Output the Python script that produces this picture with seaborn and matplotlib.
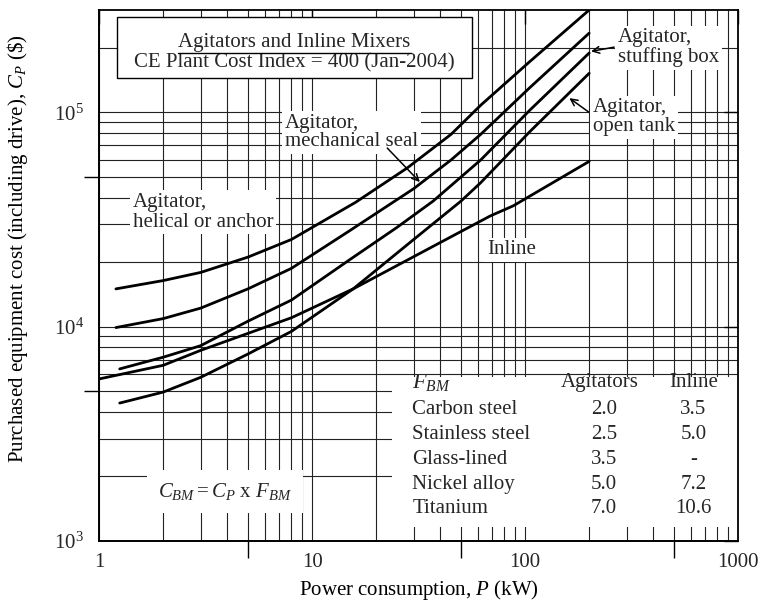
import numpy as np
import pandas as pd
import matplotlib
matplotlib.use("Agg")
import matplotlib.pyplot as plt
import seaborn as sns
from matplotlib.patches import Rectangle
from matplotlib.ticker import NullLocator, NullFormatter

# curves: power P (kW) vs purchased cost Cp ($)
p_helical = [1.2, 2, 3, 5, 8, 16, 28, 45, 62, 105, 200]
cp_helical = [15000, 16400, 17900, 21100, 25500, 38000, 55000, 79000, 108000, 172000, 300000]
p_seal = [1.2, 2, 3, 5, 8, 15, 30, 45, 62, 105, 200]
cp_seal = [9900, 10900, 12200, 15000, 18700, 28000, 44000, 60000, 79000, 130000, 234000]
p_stuffing = [1.25, 2, 3, 5, 8, 15, 25, 37, 62, 105, 200]
cp_stuffing = [6350, 7200, 8150, 10600, 13300, 20500, 29000, 38500, 60000, 102000, 189000]
p_open = [1.25, 2, 3, 5, 8, 15.6, 30, 50, 62, 105, 200]
cp_open = [4400, 4950, 5800, 7450, 9500, 15000, 25500, 38500, 47000, 81000, 152000]
p_inline = [1, 2, 3, 5, 8, 15.6, 35, 68.5, 88, 200]
cp_inline = [5700, 6600, 7750, 9300, 11000, 15000, 23000, 32800, 36600, 59000]

materials = ["Carbon steel", "Stainless steel", "Glass-lined", "Nickel alloy", "Titanium"]
fbm_agitators = ["2.0", "2.5", "3.5", "5.0", "7.0"]
fbm_inline = ["3.5", "5.0", "-", "7.2", "10.6"]

x_ticks = [1, 10, 100, 1000]
x_tick_labels = ["1", "10", "100", "1000"]
y_ticks = [1e3, 1e4, 1e5]
y_tick_labels = [r"$10^3$", r"$10^4$", r"$10^5$"]

curves = {
    "helical": (p_helical, cp_helical),
    "seal": (p_seal, cp_seal),
    "stuffing": (p_stuffing, cp_stuffing),
    "open": (p_open, cp_open),
    "inline": (p_inline, cp_inline),
}
df = pd.concat([pd.DataFrame({"P": p, "Cp": c, "curve": k}) for k, (p, c) in curves.items()])

sns.set_theme(style="white")
plt.rcParams["font.family"] = ["Liberation Serif", "DejaVu Serif"]
plt.rcParams["mathtext.fontset"] = "custom"
plt.rcParams["mathtext.rm"] = "Liberation Serif"
plt.rcParams["mathtext.it"] = "Liberation Serif:italic"
fs = 15

fig = plt.figure(figsize=(7.62, 6.05), dpi=100)
ax = fig.add_axes([0.130, 0.1058, 0.8386, 0.8777])
ax.set_xscale("log")
ax.set_yscale("log")
ax.set_xlim(1, 1000)
ax.set_ylim(1e3, 3e5)

# log paper grid
gx = [k * 10 ** e for e in range(0, 3) for k in range(1, 10)]
gy = [k * 10 ** e for e in range(3, 6) for k in range(1, 10) if k * 10 ** e < 3e5]
ax.vlines(gx, 0, 1, transform=ax.get_xaxis_transform(), color="#222222", lw=0.8, zorder=0.8)
ax.hlines(gy, 0, 1, transform=ax.get_yaxis_transform(), color="#222222", lw=0.8, zorder=0.8)

sns.lineplot(data=df, x="P", y="Cp", hue="curve", palette=["black"] * 5,
             legend=False, errorbar=None, lw=2, ax=ax, zorder=3)

ax.set_axisbelow(False)
ax.set_xticks(x_ticks, labels=x_tick_labels)
ax.set_yticks(y_ticks, labels=y_tick_labels)
ax.xaxis.set_minor_locator(NullLocator())
ax.yaxis.set_minor_locator(NullLocator())
ax.tick_params(which="both", direction="in", length=10, width=1, top=True, right=True,
               labelsize=fs, color="black")
ax.tick_params(axis="x", pad=9)
ax.tick_params(axis="y", pad=11)
for s in ax.spines.values():
    s.set_color("black")
    s.set_linewidth(1.3)

# longer outward ticks at the 5s
sx = ax.secondary_xaxis("bottom")
sx.set_xticks([5, 50, 500])
sx.xaxis.set_minor_locator(NullLocator())
sx.tick_params(direction="out", length=12, width=1, labelbottom=False, color="black")
sy = ax.secondary_yaxis("left")
sy.set_yticks([5e3, 5e4])
sy.yaxis.set_minor_locator(NullLocator())
sy.tick_params(direction="out", length=11, width=1, labelleft=False, color="black")
sy.yaxis.set_major_formatter(NullFormatter())
sx.xaxis.set_major_formatter(NullFormatter())

ax.set_xlabel("Power consumption, $P$ (kW)", fontsize=fs, color="black", labelpad=4)
ax.set_ylabel(r"Purchased equipment cost (including drive), $C_P$ (\$)", fontsize=fs,
              color="black")
ax.yaxis.set_label_coords(-0.108, 0.55)

# title box
ax.add_patch(Rectangle((0.028, 0.872), 0.556, 0.115, transform=ax.transAxes,
                       facecolor="white", edgecolor="black", lw=1, zorder=4))
t1 = ax.text(0.306, 0.938, "Agitators and Inline Mixers", transform=ax.transAxes,
             ha="center", va="center", fontsize=fs, zorder=5)
ax.text(0.306, 0.900, "CE Plant Cost Index = 400 (Jan-2004)", transform=ax.transAxes,
        ha="center", va="center", fontsize=fs, zorder=5)

# table of bare module factors
ax.add_patch(Rectangle((0.4585, 0.026), 0.5415, 0.283, transform=ax.transAxes,
                       facecolor="white", edgecolor="none", zorder=1))
ax.text(0.490, 0.298, r"$F_{BM}$", transform=ax.transAxes, ha="left", va="center",
        fontsize=fs + 1, zorder=5)
ax.text(0.784, 0.298, "Agitators", transform=ax.transAxes, ha="center", va="center",
        fontsize=fs, zorder=5)
ax.text(0.930, 0.298, "Inline", transform=ax.transAxes, ha="center", va="center",
        fontsize=fs, zorder=5)
row_y = [0.247, 0.200, 0.154, 0.107, 0.062]
for yy, m, a, i in zip(row_y, materials, fbm_agitators, fbm_inline):
    ax.text(0.490, yy, m, transform=ax.transAxes, ha="left", va="center", fontsize=fs, zorder=5)
    ax.text(0.790, yy, a, transform=ax.transAxes, ha="center", va="center", fontsize=fs, zorder=5)
    ax.text(0.930, yy, i, transform=ax.transAxes, ha="center", va="center", fontsize=fs, zorder=5)

box = dict(facecolor="white", edgecolor="none", pad=2)
ax.text(0.092, 0.093, r"$C_{BM} = C_P$ x $F_{BM}$", transform=ax.transAxes, ha="left",
        va="center", fontsize=fs, bbox=dict(facecolor="white", edgecolor="none", pad=8), zorder=5)
ax.text(0.053, 0.619, "Agitator,\nhelical or anchor", transform=ax.transAxes, ha="left",
        va="center", fontsize=fs, linespacing=1.05, bbox=box, zorder=5)
ax.text(0.291, 0.769, "Agitator,\nmechanical seal", transform=ax.transAxes, ha="left",
        va="center", fontsize=fs, linespacing=0.95, bbox=box, zorder=5)
ax.text(0.812, 0.929, "Agitator,\nstuffing box", transform=ax.transAxes, ha="left",
        va="center", fontsize=fs, linespacing=1.0, bbox=box, zorder=5)
ax.text(0.773, 0.798, "Agitator,\nopen tank", transform=ax.transAxes, ha="left",
        va="center", fontsize=fs, linespacing=1.0, bbox=box, zorder=5)
ax.text(0.607, 0.548, "Inline", transform=ax.transAxes, ha="left", va="center",
        fontsize=fs, bbox=box, zorder=5)

arrow = dict(arrowstyle="->", lw=1.1, color="black", shrinkA=0, shrinkB=0)
ax.annotate("", xy=(0.502, 0.676), xytext=(0.451, 0.740), xycoords="axes fraction",
            arrowprops=arrow, zorder=6)
ax.annotate("", xy=(0.770, 0.922), xytext=(0.806, 0.930), xycoords="axes fraction",
            arrowprops=arrow, zorder=6)
ax.annotate("", xy=(0.736, 0.834), xytext=(0.766, 0.808), xycoords="axes fraction",
            arrowprops=arrow, zorder=6)

# underline the box heading
fig.canvas.draw()
bb = t1.get_window_extent()
(x0, y0), (x1, y1) = ax.transAxes.inverted().transform([[bb.x0, bb.y0], [bb.x1, bb.y1]])
ax.plot([x0, x1], [y0 - 0.002, y0 - 0.002], transform=ax.transAxes, color="black",
        lw=1, zorder=5)

fig.savefig("out.png", dpi=100)
